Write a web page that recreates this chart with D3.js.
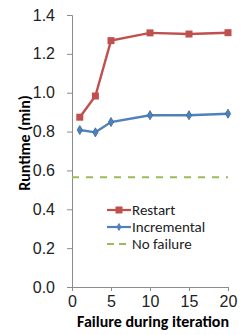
<!DOCTYPE html>
<html>
<head>
<meta charset="utf-8">
<script src="https://cdn.jsdelivr.net/npm/d3@7"></script>
<style>
  body { margin: 0; background: #fff; }
  svg { font-family: Carlito, "Open Sans", "Liberation Sans", sans-serif; }
</style>
</head>
<body>
<div id="chart"></div>
<script>
// Chart data
const iterations = [1, 3, 5, 10, 15, 20];
const restart = [0.874, 0.983, 1.268, 1.308, 1.302, 1.309];
const incremental = [0.808, 0.796, 0.849, 0.884, 0.884, 0.892];
const noFailure = 0.565;
const yTicks = [0.0, 0.2, 0.4, 0.6, 0.8, 1.0, 1.2, 1.4];
const xTicks = [0, 5, 10, 15, 20];
const seriesNames = ['Restart', 'Incremental', 'No failure'];

const width = 242, height = 335;
const colors = { restart: '#C0504D', incremental: '#4F81BD', noFailure: '#9BBB59' };

const svg = d3.select('#chart').append('svg')
    .attr('width', width)
    .attr('height', height);

const x = d3.scaleLinear().domain([0, 20]).range([72, 228]);
const y = d3.scaleLinear().domain([0, 1.4]).range([287, 15]);

// Y axis
const yAxis = svg.append('g')
    .attr('transform', 'translate(72,0)')
    .call(d3.axisLeft(y).tickValues(yTicks).tickFormat(d3.format('.1f')).tickSize(5).tickPadding(12));
yAxis.select('.domain').attr('stroke', '#8c8c8c');
yAxis.selectAll('.tick line').attr('stroke', '#8c8c8c');
yAxis.selectAll('text').style('font-size', '16px').attr('fill', '#222');

// X axis
const xAxis = svg.append('g')
    .attr('transform', `translate(0,${y(0)})`)
    .call(d3.axisBottom(x).tickValues(xTicks).tickSize(4).tickPadding(5));
xAxis.select('.domain').attr('stroke', '#8c8c8c');
xAxis.selectAll('.tick line').attr('stroke', '#8c8c8c');
xAxis.selectAll('text').style('font-size', '16px').attr('fill', '#222');

// Axis titles
svg.append('text')
    .attr('x', 153)
    .attr('y', 327)
    .attr('text-anchor', 'middle')
    .style('font-size', '16px')
    .style('font-weight', 'bold')
    .text('Failure during iteration');

svg.append('text')
    .attr('transform', 'translate(30,143) rotate(-90)')
    .attr('text-anchor', 'middle')
    .style('font-size', '16px')
    .style('font-weight', 'bold')
    .text('Runtime (min)');

// No failure baseline
svg.append('line')
    .attr('x1', x(0)).attr('x2', x(20))
    .attr('y1', y(noFailure)).attr('y2', y(noFailure))
    .attr('stroke', colors.noFailure)
    .attr('stroke-width', 2)
    .attr('stroke-dasharray', '7,7');

const line = d3.line()
    .x((d, i) => x(iterations[i]))
    .y(d => y(d));

// Incremental series
svg.append('path')
    .datum(incremental)
    .attr('fill', 'none')
    .attr('stroke', colors.incremental)
    .attr('stroke-width', 2.4)
    .attr('d', line);

svg.selectAll('.inc-marker')
    .data(incremental)
    .enter()
    .append('path')
    .attr('class', 'inc-marker')
    .attr('transform', (d, i) => `translate(${x(iterations[i])},${y(d)})`)
    .attr('d', d3.symbol(d3.symbolDiamond, 24))
    .attr('fill', colors.incremental)
    .attr('stroke', '#3a6699')
    .attr('stroke-width', 0.8);

// Restart series
svg.append('path')
    .datum(restart)
    .attr('fill', 'none')
    .attr('stroke', colors.restart)
    .attr('stroke-width', 2.4)
    .attr('d', line);

svg.selectAll('.restart-marker')
    .data(restart)
    .enter()
    .append('rect')
    .attr('class', 'restart-marker')
    .attr('x', (d, i) => x(iterations[i]) - 3.5)
    .attr('y', d => y(d) - 3.5)
    .attr('width', 7)
    .attr('height', 7)
    .attr('fill', colors.restart);

// Legend
const legend = svg.append('g');
const legendY = [210, 227, 244];
const legendColors = [colors.restart, colors.incremental, colors.noFailure];

seriesNames.forEach((name, i) => {
    const g = legend.append('g').attr('transform', `translate(0,${legendY[i]})`);
    g.append('line')
        .attr('x1', 107).attr('x2', 131)
        .attr('stroke', legendColors[i])
        .attr('stroke-width', 2.2)
        .attr('stroke-dasharray', i === 2 ? '7,5' : null);
    if (i === 0) {
        g.append('rect').attr('x', 115.5).attr('y', -3.5).attr('width', 7).attr('height', 7)
            .attr('fill', colors.restart);
    } else if (i === 1) {
        g.append('path').attr('transform', 'translate(119,0)')
            .attr('d', d3.symbol(d3.symbolDiamond, 22))
            .attr('fill', colors.incremental);
    }
    g.append('text')
        .attr('x', 132)
        .attr('dy', '0.35em')
        .style('font-size', '15px')
        .attr('fill', '#222')
        .text(name);
});
</script>
</body>
</html>
